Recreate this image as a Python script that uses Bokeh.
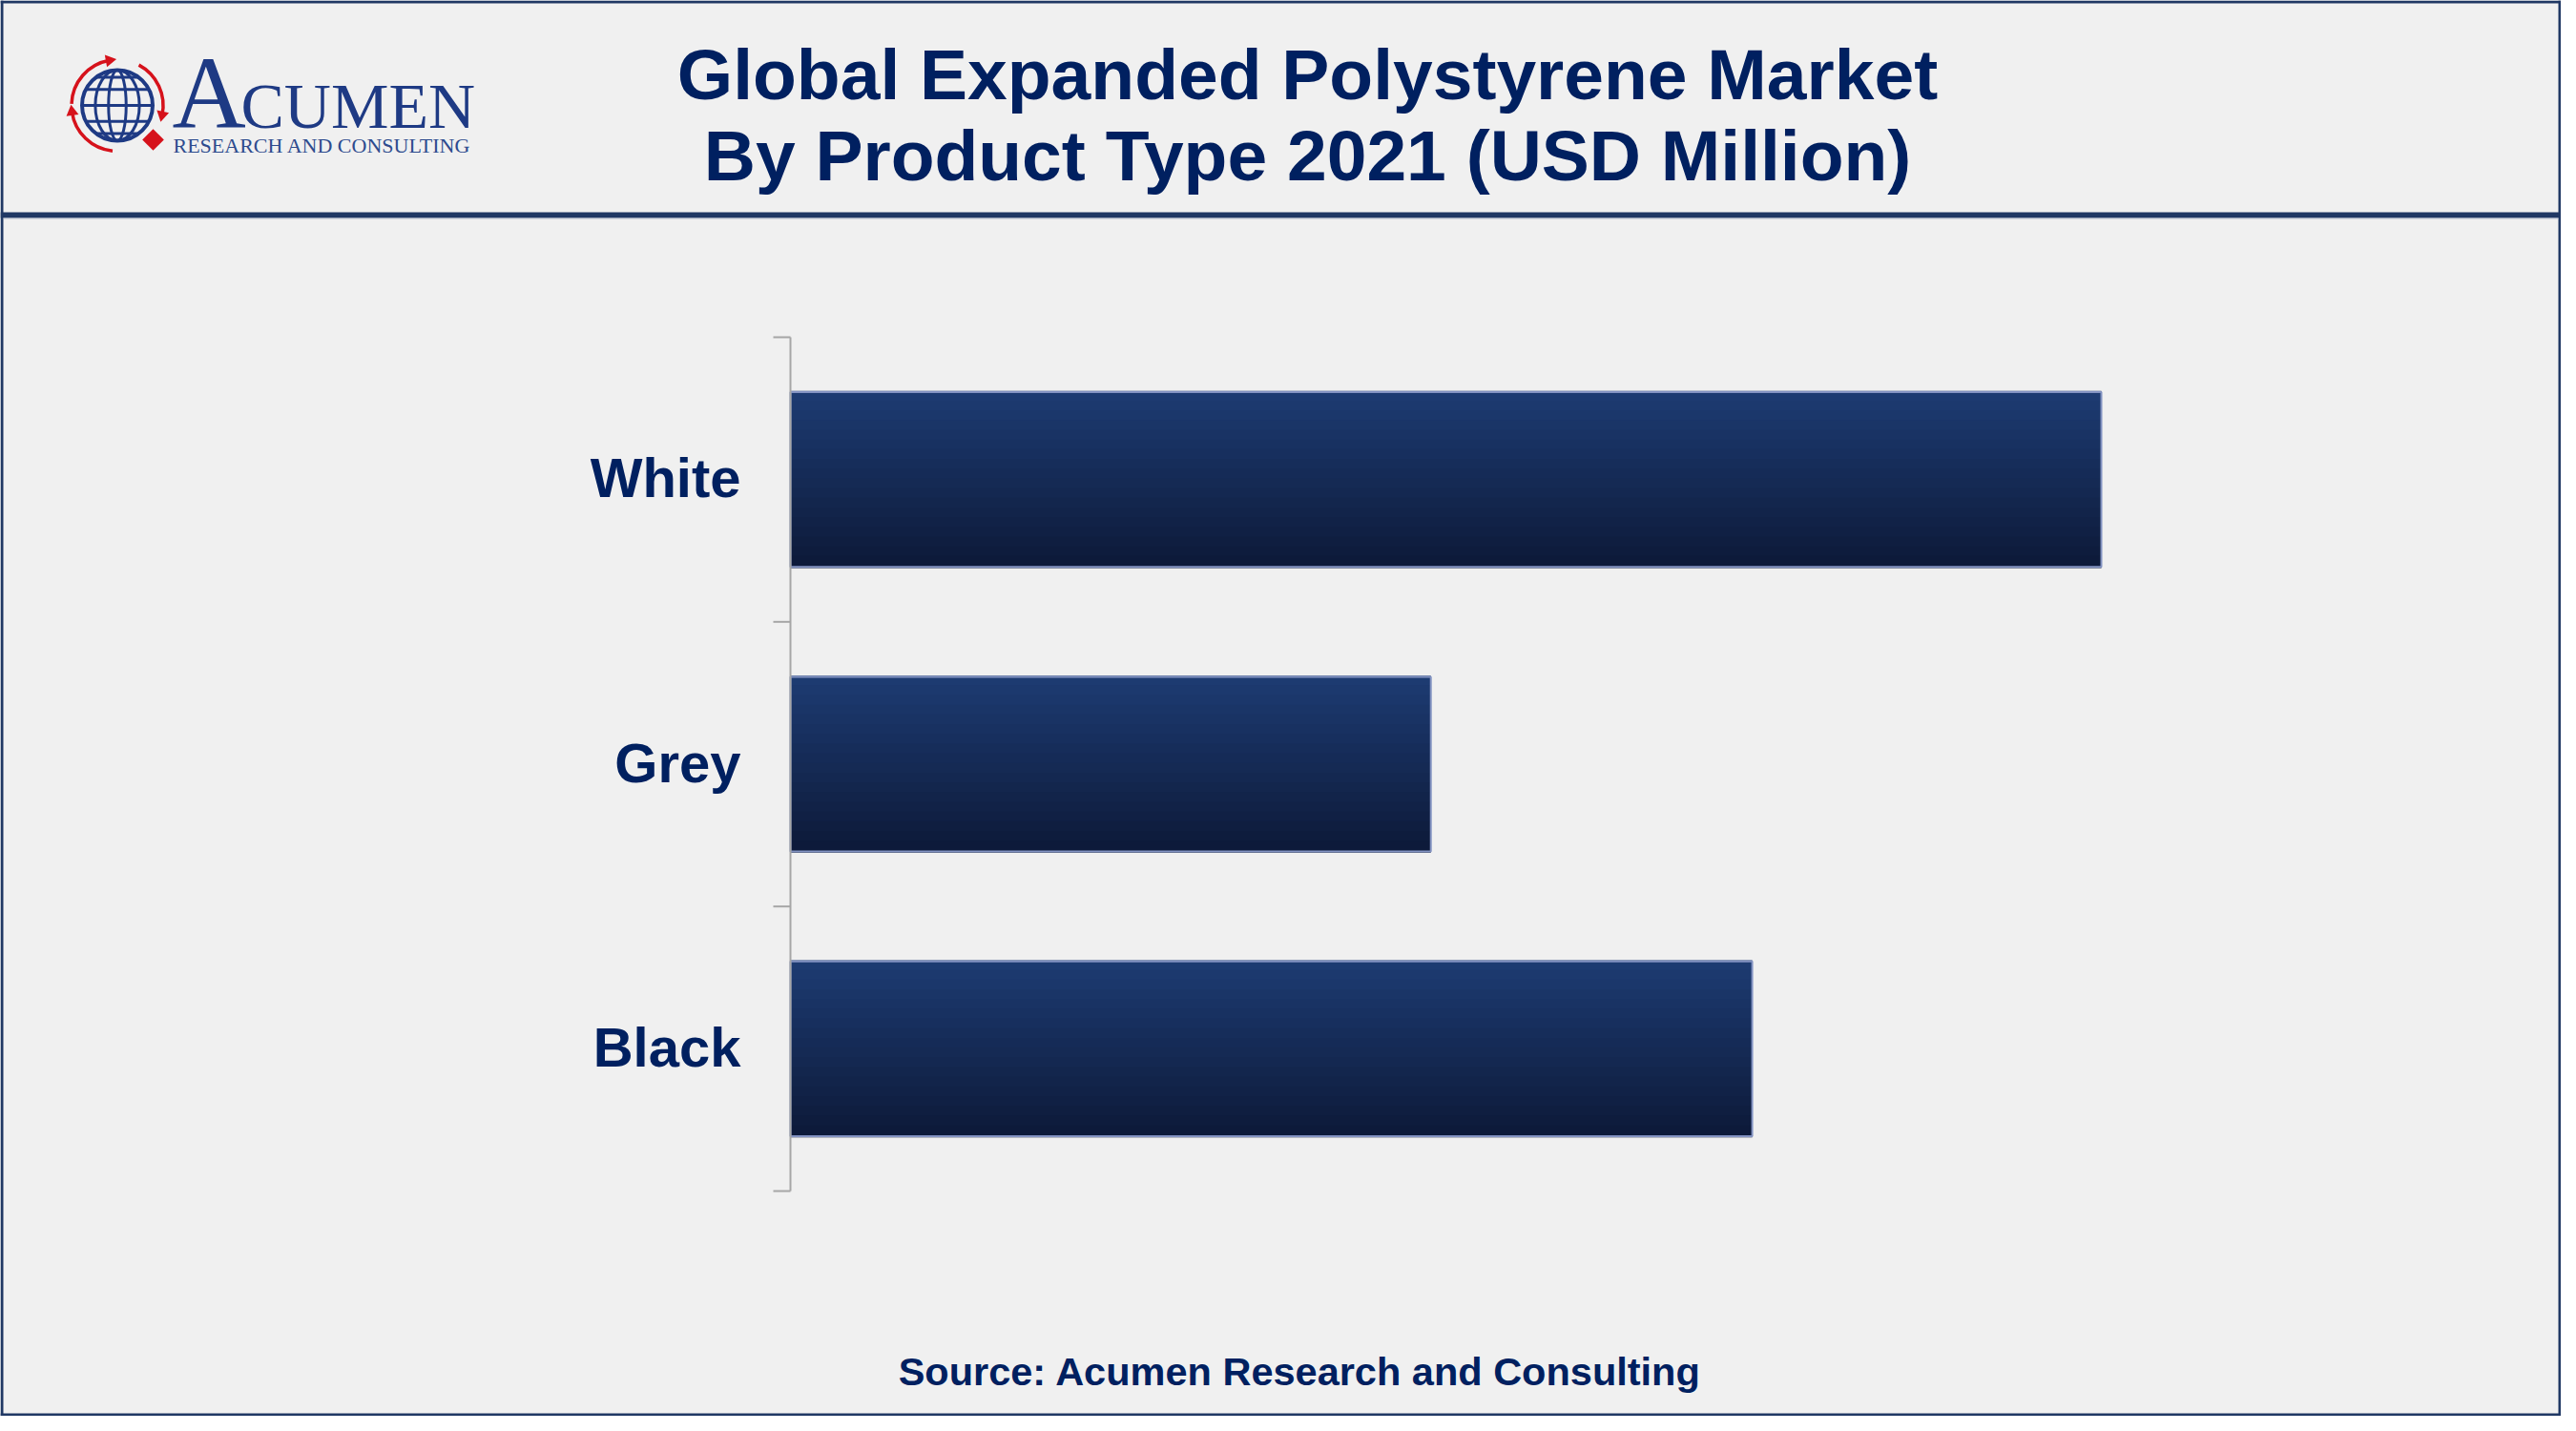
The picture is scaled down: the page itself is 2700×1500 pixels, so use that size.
from bokeh.plotting import figure
from bokeh.models import Range1d, ColumnDataSource
from bokeh.core.properties import value
from bokeh.embed import file_html
from bokeh.resources import INLINE
import math

# ---------------- data ----------------
categories = ["White", "Grey", "Black"]
values = [3920, 1915, 2876]          # USD Million
title_lines = ["Global Expanded Polystyrene Market", "By Product Type 2021 (USD Million)"]
source_text = "Source: Acumen Research and Consulting"

# ---------------- styling ----------------
BORDER = "#203864"
BG = "#f0f0f0"
TXT = "#002060"
LOGO = "#1e3a84"
RED = "#d6121b"
AXIS = "#a6a6a6"
W, H = 2684, 1484

def fx(r):
    return r

def fy(r):
    return H - r

p = figure(width=W, height=H, x_range=Range1d(0, W), y_range=Range1d(0, H),
           x_axis_location=None, y_axis_location=None, output_backend="svg",
           toolbar_location=None, min_border=0, outline_line_color=None,
           background_fill_color=BG, border_fill_color=BG)
p.grid.visible = False

# ---------------- frame / borders ----------------
p.quad(left=[0, 0, 0, W - 3, 0], right=[W, W, 3, W, W],
       bottom=[H - 3, 0, 0, 0, fy(228)], top=[H, 3, H, H, fy(222)],
       fill_color=BORDER, line_color=None)
p.quad(left=[3], right=[W - 3], bottom=[fy(229)], top=[fy(228)], fill_color="#b4bccb", line_color=None)

# ---------------- header ----------------
p.text(x=[fx(1370), fx(1370)], y=[fy(77), fy(162)], text=title_lines,
       text_font=value("Liberation Sans"), text_font_style="bold", text_font_size="75px",
       text_color=TXT, text_align="center", text_baseline="middle")

gcx, gcy, gr = fx(122.5), fy(110), 37
p.circle(x=[gcx], y=[gcy], radius=gr, fill_color=None, line_color=LOGO, line_width=4)
p.ellipse(x=[gcx, gcx], y=[gcy, gcy], width=[gr * 1.25, gr * 0.5], height=[gr * 2, gr * 2],
          fill_color=None, line_color=LOGO, line_width=3)
for d in [0.0, 0.45, -0.45, 0.8, -0.8]:
    hw = (gr ** 2 - (d * gr) ** 2) ** 0.5
    p.segment(x0=[gcx - hw], y0=[gcy + d * gr], x1=[gcx + hw], y1=[gcy + d * gr],
              line_color=LOGO, line_width=3)
for a0, a1 in [(100, 178), (-12, 62), (-172, -96)]:
    p.arc(x=[gcx], y=[gcy], radius=48, start_angle=math.radians(a0), end_angle=math.radians(a1),
          line_color=RED, line_width=3.5)
for apos, dirn in [(100, 10), (-12, -102), (-172, 98)]:
    p.scatter(x=[gcx + 48 * math.cos(math.radians(apos))], y=[gcy + 48 * math.sin(math.radians(apos))],
              marker="triangle", size=13, angle=math.radians(dirn - 90),
              fill_color=RED, line_color=None)
p.scatter(x=[fx(160)], y=[fy(146)], marker="square", size=16, angle=math.pi / 4,
          fill_color=RED, line_color=None)
p.text(x=[fx(180)], y=[fy(97)], text=["A"], text_font=value("Liberation Serif"),
       text_font_size="107px", text_color=LOGO, text_align="left", text_baseline="middle")
p.text(x=[fx(252)], y=[fy(110)], text=["CUMEN"], text_font=value("Liberation Serif"),
       text_font_size="68px", text_color=LOGO, text_align="left", text_baseline="middle")
p.text(x=[fx(181)], y=[fy(151.5)], text=["RESEARCH AND CONSULTING"], text_font=value("Liberation Serif"),
       text_font_size="22px", text_color="#2d4b8e", text_align="left", text_baseline="middle")

# ---------------- chart scales ----------------
n = len(categories)
ZERO_PX, FULL_PX = fx(828), fx(2202)          # where 0 and the largest value sit
k = (FULL_PX - ZERO_PX) / max(values)          # px per unit
x0 = -ZERO_PX / k
p.extra_x_ranges = {"val": Range1d(x0, x0 + W / k)}
BOT_PX, TOP_PX = fy(1248), fy(353)             # category band edges
u = (TOP_PX - BOT_PX) / n
y0 = -BOT_PX / u
p.extra_y_ranges = {"cat": Range1d(y0, y0 + H / u)}

pos = [n - 1 - i + 0.5 for i in range(n)]
src = ColumnDataSource(dict(cat=categories, val=values, pos=pos))

BAR_H = 0.614
N = 18
top_c = (29, 59, 113)
bot_c = (13, 26, 58)
sh = BAR_H / N
for i in range(N):
    t = i / (N - 1)
    c = tuple(int(round(top_c[j] + (bot_c[j] - top_c[j]) * t)) for j in range(3))
    strip_pos = [q + BAR_H / 2 - sh * (i + 0.5) for q in pos]
    p.hbar(y=strip_pos, right=values, left=0, height=sh * 1.25,
           fill_color="#%02x%02x%02x" % c, line_color=None,
           x_range_name="val", y_range_name="cat")
p.hbar(y="pos", right="val", left=0, height=BAR_H, source=src, fill_color=None,
       line_color="#8393c2", line_width=2, x_range_name="val", y_range_name="cat")

# category axis: line, boundary ticks, labels
p.segment(x0=[0], x1=[0], y0=[0], y1=[n], line_color=AXIS, line_width=2,
          x_range_name="val", y_range_name="cat")
p.segment(x0=[-18 / k] * (n + 1), x1=[0] * (n + 1), y0=list(range(n + 1)), y1=list(range(n + 1)),
          line_color=AXIS, line_width=2, x_range_name="val", y_range_name="cat")
p.text(x=value(-52 / k), y="pos", text="cat", source=src, y_offset=-2,
       text_font=value("Liberation Sans"), text_font_style="bold", text_font_size="58px",
       text_color=TXT, text_align="right", text_baseline="middle",
       x_range_name="val", y_range_name="cat")

# ---------------- footer ----------------
p.text(x=[fx(1362)], y=[fy(1437)], text=[source_text],
       text_font=value("Liberation Sans"), text_font_style="bold", text_font_size="41.5px",
       text_color=TXT, text_align="center", text_baseline="middle")

open("out.html", "w").write(file_html(p, INLINE))
